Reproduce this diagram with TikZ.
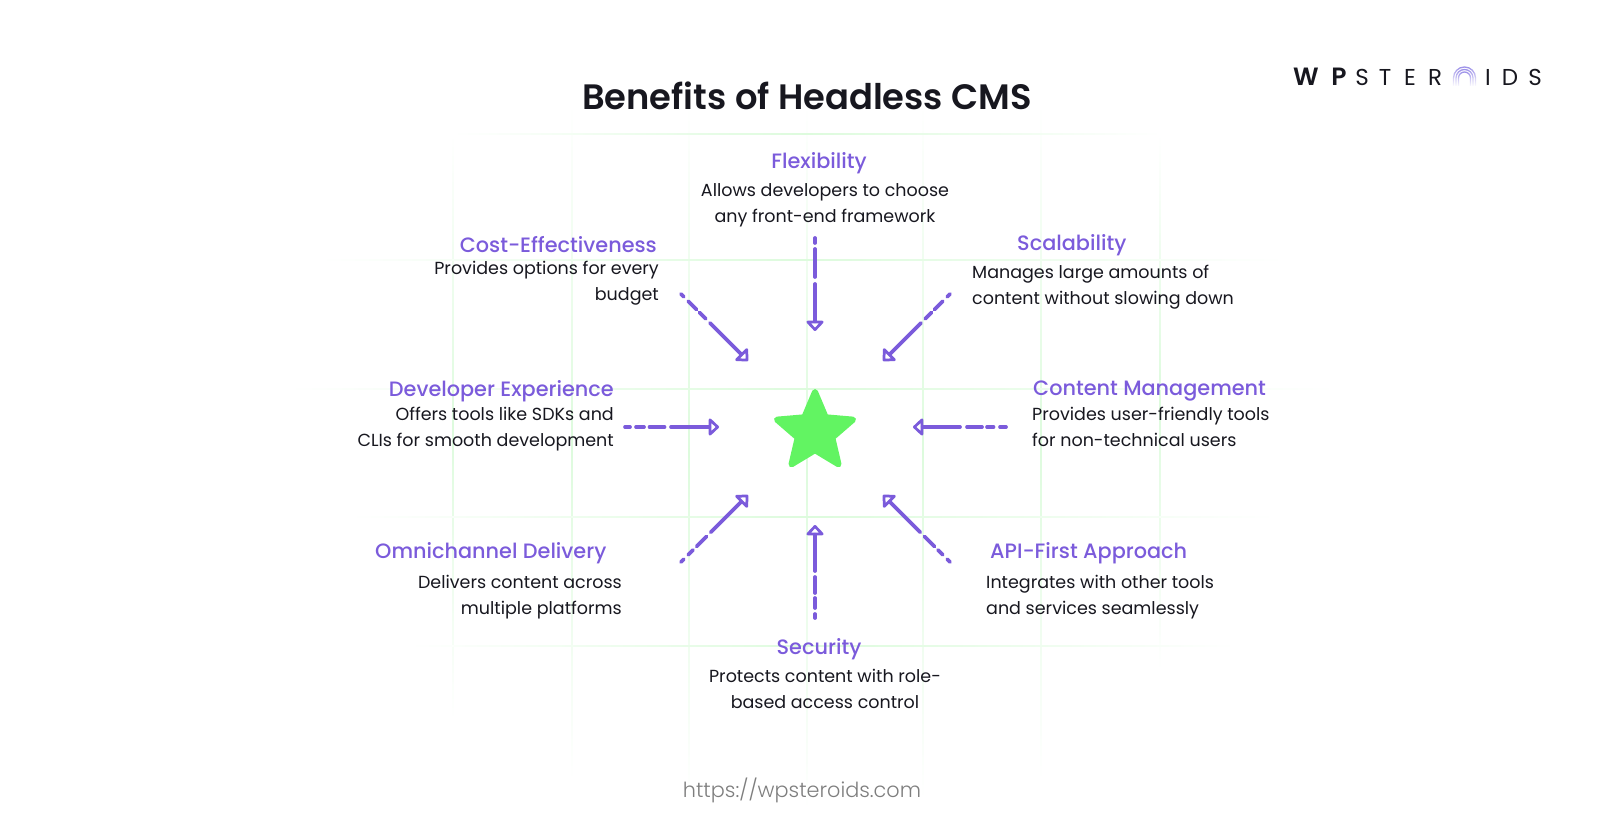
\documentclass[tikz,border=0pt]{standalone}
\usepackage{fontspec}
\setmainfont{Poppins}
\newfontfamily\headfont{Poppins Medium}
\newfontfamily\titlefont{Poppins SemiBold}
\newfontfamily\urlfont{Poppins Light}
\usetikzlibrary{arrows.meta,shapes.geometric,fadings}
\definecolor{purpleline}{HTML}{7B5BDB}
\definecolor{stargreen}{HTML}{62F462}
\definecolor{gridgreen}{HTML}{DDFBDD}
\definecolor{inkdark}{HTML}{17171F}
\definecolor{urlgray}{HTML}{7E7E7E}
\definecolor{arclilac}{HTML}{9C90E8}
\tikzset{
  headtext/.style={inner sep=0pt,text=purpleline,font=\headfont\fontsize{20.8}{24}\selectfont},
  bodytext/.style={inner sep=0pt,text=inkdark,font=\fontsize{17.5}{25.7}\selectfont},
  spoke/.style={draw=purpleline,line width=3.7pt,line cap=round,-{Triangle[open,round,length=11pt,width=20pt,line width=3.7pt]}},
  logoletter/.style={inner sep=0pt,text=inkdark,font=\fontsize{23}{24}\selectfont},
  logoarc/.style={draw=arclilac,line width=1.3pt,path fading=south},
}
\begin{document}
\begin{tikzpicture}[x=1pt,y=-1pt]
  \useasboundingbox (0,0) rectangle (1612,818);
  % faint grid behind the spokes
  \foreach \x/\a/\b in {453/134/720,572/105/780,689/105/800,807/105/810,923/105/800,1041/105/780,1160/134/670} {
    \shade[top color=white,bottom color=white,middle color=gridgreen] (\x-0.8,\a) rectangle (\x+0.8,\b);
  }
  \foreach \y/\a/\b in {134/452/1162,260/319/1285,389/288/1336,517/350/1275,646/410/1235} {
    \shade[left color=white,right color=white,middle color=gridgreen] (\a,\y-0.8) rectangle (\b,\y+0.8);
  }
  \node[inner sep=0pt,text=inkdark,font=\titlefont\fontsize{35.3}{40}\selectfont] (title) at (807,96) {Benefits of Headless CMS};
  % logo
  \foreach \c/\x in {S/1362,T/1385,E/1410,R/1435,I/1488,D/1510,S/1535} {
    \node[logoletter] (logo\x) at (\x,77) {\c};
  }
  \node[logoletter,font=\titlefont\fontsize{25}{24}\selectfont] (logoW) at (1306,77) {W};
  \node[logoletter,font=\titlefont\fontsize{25}{24}\selectfont] (logoP) at (1339,77) {P};
  \foreach \r in {11,8.5,6} {
    \draw[logoarc] (1464.5-\r,86) -- (1464.5-\r,78) arc (180:360:\r) -- (1464.5+\r,86);
  }
  % star in the middle
  \node[star,star points=5,star point ratio=2.2,minimum size=80pt,inner sep=0pt,fill=stargreen,draw=stargreen,line width=6pt,line join=round] (hub) at (815,432) {};
  % text blocks
  \node[headtext] (flexHead) at (819,163) {Flexibility};
  \node[bodytext,align=center] (flexBody) at (825,205) {Allows developers to choose\\any front-end framework};
  \node[headtext,anchor=west] (scaleHead) at (1017,245) {Scalability};
  \node[bodytext,align=left,anchor=west] (scaleBody) at (972,287) {Manages large amounts of\\content without slowing down};
  \node[headtext,anchor=east] (costHead) at (657,245) {Cost-Effectiveness};
  \node[bodytext,align=right,anchor=east] (costBody) at (659,283) {Provides options for every\\budget};
  \node[headtext,anchor=east] (devHead) at (614,391) {Developer Experience};
  \node[bodytext,align=right,anchor=east] (devBody) at (614,429) {Offers tools like SDKs and\\CLIs for smooth development};
  \node[headtext,anchor=west] (contentHead) at (1033,391) {Content Management};
  \node[bodytext,align=left,anchor=west] (contentBody) at (1032,427) {Provides user-friendly tools\\for non-technical users};
  \node[headtext,anchor=west] (omniHead) at (375,553) {Omnichannel Delivery};
  \node[bodytext,align=right,anchor=east] (omniBody) at (622,597) {Delivers content across\\multiple platforms};
  \node[headtext,anchor=west] (apiHead) at (990,553) {API-First Approach};
  \node[bodytext,align=left,anchor=west] (apiBody) at (986,597) {Integrates with other tools\\and services seamlessly};
  \node[headtext] (secHead) at (819,649) {Security};
  \node[bodytext,align=center] (secBody) at (825,689) {Protects content with role-\\based access control};
  \node[inner sep=0pt,text=urlgray,font=\urlfont\fontsize{20.8}{24}\selectfont] (url) at (802,790) {https://wpsteroids.com};
  % spoke ends
  \coordinate (nFrom) at (815,238);  \coordinate (nTo) at (815,331);
  \coordinate (sFrom) at (815,618);  \coordinate (sTo) at (815,525);
  \coordinate (wFrom) at (625,427);  \coordinate (wTo) at (719,427);
  \coordinate (eFrom) at (1006,427); \coordinate (eTo) at (913,427);
  \coordinate (nwFrom) at (681,294); \coordinate (nwTo) at (748,361);
  \coordinate (neFrom) at (950,294); \coordinate (neTo) at (883,361);
  \coordinate (swFrom) at (681,562); \coordinate (swTo) at (748,495);
  \coordinate (seFrom) at (950,562); \coordinate (seTo) at (883,495);
  \draw[spoke,dash pattern=on 5pt off 6pt on 28pt off 7pt on 60pt] (nFrom) -- (nTo);
  \draw[spoke,dash pattern=on 4pt off 6pt on 10pt off 5pt on 16pt off 6pt on 60pt] (sFrom) -- (sTo);
  \draw[spoke,dash pattern=on 5pt off 6pt on 8pt off 5.5pt on 15pt off 6.5pt on 60pt] (wFrom) -- (wTo);
  \draw[spoke,dash pattern=on 6pt off 6.5pt on 6.5pt off 5pt on 15pt off 7pt on 60pt] (eFrom) -- (eTo);
  \draw[spoke,dash pattern=on 4pt off 6pt on 12pt off 4pt on 9pt off 6pt on 60pt] (nwFrom) -- (nwTo);
  \draw[spoke,dash pattern=on 4pt off 6pt on 12pt off 4pt on 9pt off 6pt on 60pt] (neFrom) -- (neTo);
  \draw[spoke,dash pattern=on 4pt off 6pt on 7pt off 5pt on 14pt off 6pt on 70pt] (swFrom) -- (swTo);
  \draw[spoke,dash pattern=on 4pt off 6pt on 7pt off 5pt on 14pt off 6pt on 70pt] (seFrom) -- (seTo);
\end{tikzpicture}
\end{document}
